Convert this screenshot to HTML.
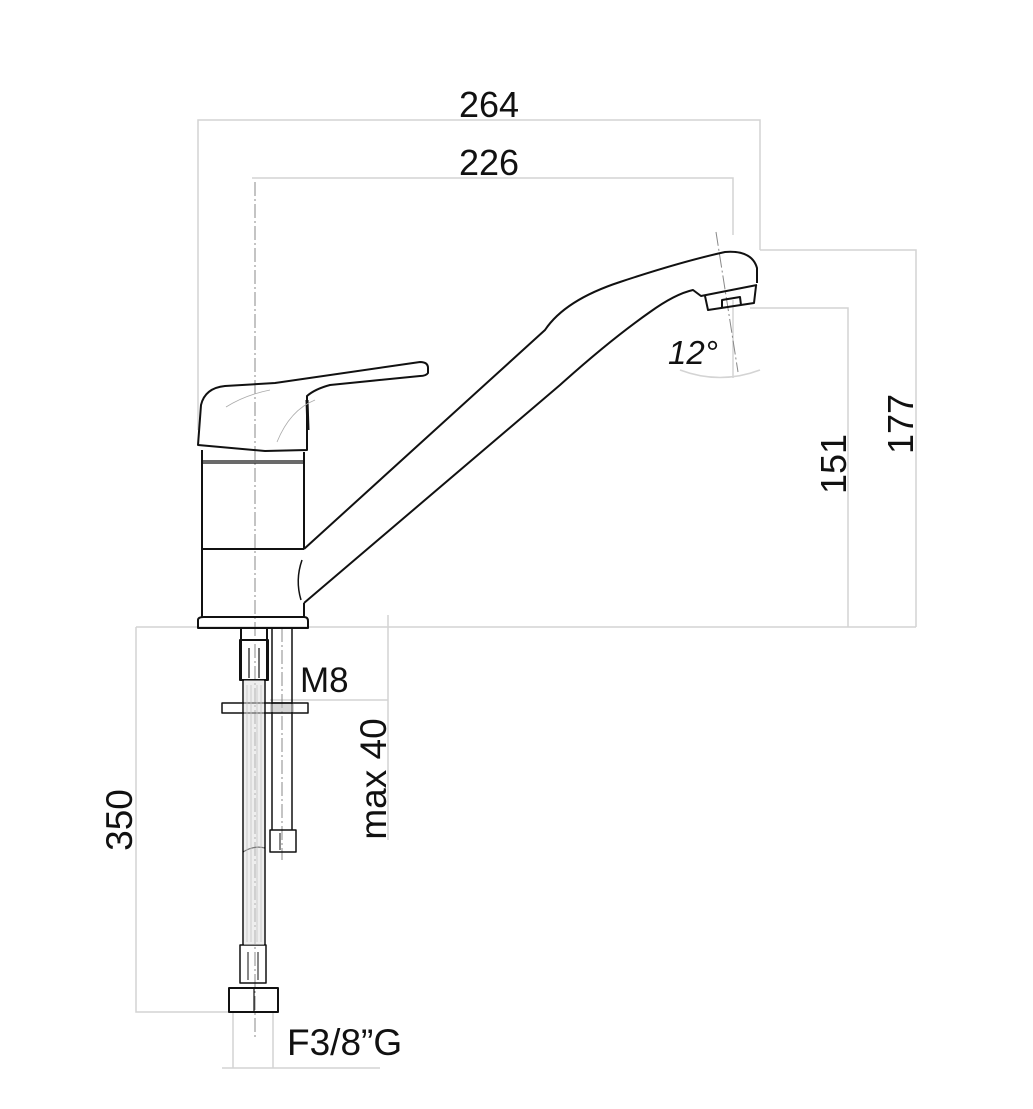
<!DOCTYPE html>
<html><head><meta charset="utf-8"><style>
html,body{margin:0;padding:0;background:#fff;}
svg{display:block;}
text{font-family:"Liberation Sans",Arial,sans-serif;fill:#111;}
</style></head><body>
<svg width="1033" height="1109" viewBox="0 0 1033 1109" xmlns="http://www.w3.org/2000/svg">
<g stroke="#d4d4d4" stroke-width="1.5" fill="none">
<path d="M198 430 V120 H760 V250"/>
<path d="M252 178 H733 V235"/>
<path d="M760 250 H916 V627"/>
<path d="M750 308 H848 V627"/>
<path d="M136 627 H916"/>
<path d="M136 627 V1012 H232"/>
<path d="M388 615 V840"/>
<path d="M270 700 H388"/>
<path d="M233 1012 V1068 M273 1012 V1068 M222 1068 H380"/>
<path d="M733 300 V378"/>
<path d="M680 370 Q720 385 760 370"/>
</g>
<g stroke="#888" stroke-width="1" fill="none" stroke-dasharray="14 3 2 3">
<path d="M255 182 V1040"/>
<path d="M716 232 L738 372"/>
<path d="M282 628 V860"/>
</g>
<g stroke="#111" stroke-width="2" fill="none" stroke-linejoin="round">
<path d="M198 445 L201 405 Q205 388 225 386 L275 383 L420 362 Q428 362 428 368 L428 373 Q426 376 420 376 L330 385 Q315 389 307 396 L307 450 L265 451 L198 445 Z"/>
<path d="M307 400 L308 430" stroke-width="3"/>
<path d="M202 450 V617 M304 452 V549 M304 603 V617"/>
<path d="M202 461 H304 M202 463 H304" stroke-width="1.2"/>
<path d="M202 549 H304"/>
<path d="M198 628 V620 Q198 617 204 617 H304 Q308 617 308 621 V628 Z"/>
<path d="M302 560 Q295 580 301 600" stroke-width="1.5"/>
<path d="M304 549 L545 330 Q565 300 620 282 Q680 262 725 252 Q752 250 757 268 V283"/>
<path d="M304 603 L560 385 Q610 340 650 312 Q675 294 693 290 L701 296 L757 285"/>
<path d="M705 296 L708 310 L754 303 L756 286"/>
<path d="M722 308 L722 300 L740 297 L741 305"/>
<path d="M241 628 V680 M267 628 V680"/>
<path d="M240 640 H268 V680 H240 Z"/>
<path d="M249 648 V678 M259 648 V678" stroke-width="1.2"/>
<path d="M243 680 V945 M265 680 V945" stroke-width="1.5"/>
<path d="M243 852 Q254 845 265 848" stroke-width="1.2"/>
<path d="M222 703 H308 V713 H222 Z" stroke-width="1.5"/>
<path d="M272 628 V830 M292 628 V830" stroke-width="1.5"/>
<path d="M272 703 H292" stroke-width="1.5"/>
<path d="M270 830 H296 V852 H270 Z" stroke-width="1.5"/>
<path d="M280 833 V850" stroke-width="1"/>
<path d="M240 945 H266 V983 H240 Z" stroke-width="1.5"/>
<path d="M248 952 V980 M258 952 V980" stroke-width="1"/>
<path d="M229 988 H278 V1012 H229 Z"/>
<path d="M254 988 V1012" stroke-width="1.2"/>
</g>
<g stroke="#aaa" stroke-width="0.8" fill="none">
<path d="M247 685 V942 M251 685 V942 M257 685 V942 M261 685 V942"/>
<path d="M226 407 Q245 395 270 390" />
<path d="M277 442 Q290 410 315 400"/>
</g>
<rect x="244" y="680" width="20" height="265" fill="#ddd" opacity="0.5"/>
<rect x="270" y="704" width="24" height="8" fill="#bbb" opacity="0.6"/>
<text x="489" y="117" font-size="36" text-anchor="middle">264</text>
<text x="489" y="175" font-size="36" text-anchor="middle">226</text>
<text x="300" y="692" font-size="35">M8</text>
<text x="668" y="364" font-size="33" font-style="italic">12°</text>
<text x="287" y="1055" font-size="37">F3/8”G</text>
<text transform="translate(913,424) rotate(-90)" font-size="36" text-anchor="middle">177</text>
<text transform="translate(846,464) rotate(-90)" font-size="36" text-anchor="middle">151</text>
<text transform="translate(132,820) rotate(-90)" font-size="37" text-anchor="middle">350</text>
<text transform="translate(386,779) rotate(-90)" font-size="37" text-anchor="middle">max 40</text>
</svg>
</body></html>
